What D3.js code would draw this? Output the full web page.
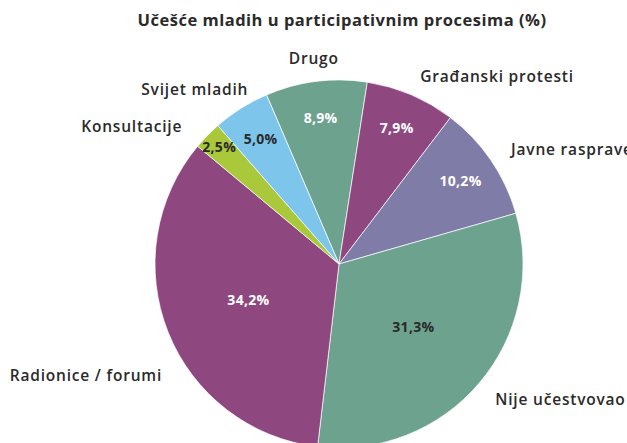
<!DOCTYPE html>
<html><head><meta charset="utf-8">
<script src="https://cdn.jsdelivr.net/npm/d3@7"></script>
<style>
html,body{margin:0;padding:0;background:#fff;}
svg text{font-family:"Open Sans","Noto Sans",sans-serif;}
</style></head>
<body><svg id="chart" width="627" height="443"></svg>
<script>
const title = "Učešće mladih u participativnim procesima (%)";
const categories = ["Drugo","Građanski protesti","Javne rasprave","Nije učestvovao","Radionice / forumi","Konsultacije","Svijet mladih"];
const values = [8.9, 7.9, 10.2, 31.3, 34.2, 2.5, 5.0];
const valueLabels = ["8,9%","7,9%","10,2%","31,3%","34,2%","2,5%","5,0%"];
const colors = ["#6da28f","#8f4780","#7f7ca8","#6da28f","#8f4780","#aac93a","#7ec5ec"];
const valueTextColors = ["#fff","#fff","#fff","#2a2a2a","#fff","#2a2a2a","#2a2a2a"];

const svg = d3.select("#chart");
const cx = 339, cy = 264, R = 184;
const startDeg = -23.2;

svg.append("text").attr("x", 342).attr("y", 26).attr("text-anchor","middle")
  .attr("font-size", 16.5).attr("letter-spacing", 0.5).attr("font-weight", 700).attr("fill","#2a2a2a").text(title);

const data = categories.map((c,i)=>({cat:c, v:values[i], lab:valueLabels[i], col:colors[i], tc:valueTextColors[i], i}));
const pie = d3.pie().value(d=>d.v).sort(null)
  .startAngle(startDeg*Math.PI/180).endAngle(startDeg*Math.PI/180 + 2*Math.PI);
const arcs = pie(data);
const arc = d3.arc().innerRadius(0).outerRadius(R);
const g = svg.append("g").attr("transform", `translate(${cx},${cy})`);
g.selectAll("path").data(arcs).enter().append("path")
  .attr("d", arc).attr("fill", d=>d.data.col).attr("stroke","#fff").attr("stroke-width",0.7);

// value labels
function labelR(v){ return v > 20 ? 0.53 : (v < 3 ? 0.91 : 0.8); }
g.selectAll("text.val").data(arcs).enter().append("text").attr("class","val")
  .attr("transform", d=>{
    const a = (d.startAngle + d.endAngle)/2, r = R*labelR(d.data.v);
    return `translate(${r*Math.sin(a)},${-r*Math.cos(a)})`;
  })
  .attr("text-anchor","middle").attr("dy","0.35em")
  .attr("font-size", 14).attr("letter-spacing", 0.3).attr("font-weight", 700).attr("fill", d=>d.data.tc)
  .text(d=>d.data.lab);

// category labels (outside), with layout nudges
const nudge = [[0,-5],[2,-1.5],[5,0],[2,5],[11,37],[-12,4],[17,-3]];
g.selectAll("text.cat").data(arcs).enter().append("text").attr("class","cat")
  .each(function(d){
    const a = (d.startAngle + d.endAngle)/2, r = R*1.1;
    let x = r*Math.sin(a) + nudge[d.data.i][0];
    let y = -r*Math.cos(a) + nudge[d.data.i][1];
    const s = Math.sin(a);
    const anchor = Math.abs(s) < 0.2 ? "middle" : (s > 0 ? "start" : "end");
    d3.select(this).attr("x", x).attr("y", y).attr("text-anchor", anchor);
  })
  .attr("dy","0.35em").attr("font-size", 15.5).attr("letter-spacing", 0.8).attr("font-weight", 600).attr("fill","#2a2a2a")
  .text(d=>d.data.cat);
</script></body></html>
